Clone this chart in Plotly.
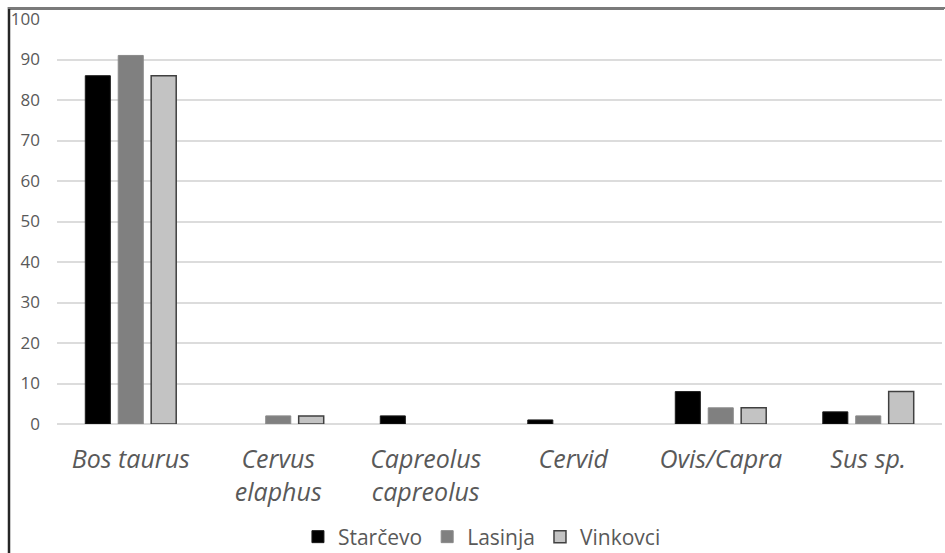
import plotly.graph_objects as go

categories = ["<i>Bos taurus</i>", "<i>Cervus<br>elaphus</i>", "<i>Capreolus<br>capreolus</i>",
              "<i>Cervid</i>", "<i>Ovis/Capra</i>", "<i>Sus sp.</i>"]
starcevo = [86, 0, 2, 1, 8, 3]
lasinja = [91, 2, 0, 0, 4, 2]
vinkovci = [86, 2, 0, 0, 4, 8]
y_ticks = [0, 10, 20, 30, 40, 50, 60, 70, 80, 90, 100]

FONT = "Open Sans"


def widths(vals, w):
    return [w if v else 0 for v in vals]


fig = go.Figure()
fig.add_bar(x=categories, y=starcevo, name="Starčevo",
            marker=dict(color="#000000", line=dict(color="#1a1a1a", width=widths(starcevo, 1))))
fig.add_bar(x=categories, y=lasinja, name="Lasinja",
            marker=dict(color="#808080", line=dict(color="#8a8a8a", width=widths(lasinja, 1))))
fig.add_bar(x=categories, y=vinkovci, name="Vinkovci",
            marker=dict(color="#c3c3c3", line=dict(color="#404040", width=widths(vinkovci, 1.5))))

W, H = 945, 553
L, R, T, B = 57, 3, 19, 129
pw, ph = W - L - R, H - T - B

fig.update_layout(
    width=W, height=H,
    margin=dict(l=L, r=R, t=T, b=B, autoexpand=False),
    paper_bgcolor="white", plot_bgcolor="white",
    barmode="group", bargap=0.33, bargroupgap=0.24,
    font=dict(family=FONT, color="#595959"),
    showlegend=True,
    legend=dict(orientation="h", x=0.51, xref="container", xanchor="center",
                y=1 - 537 / H, yref="container", yanchor="middle",
                font=dict(size=21, color="#595959", family=FONT),
                itemwidth=30, tracegroupgap=0),
    xaxis=dict(showgrid=False, showline=False, ticks="", automargin=False,
               tickfont=dict(size=25, color="#595959", family=FONT),
               ticklabelstandoff=18),
    yaxis=dict(range=[0, 100], tickvals=y_ticks, showgrid=True, automargin=False,
               gridcolor="#dcdcdc", gridwidth=1.5, zeroline=True,
               zerolinecolor="#dcdcdc", zerolinewidth=1.5,
               showline=False, ticks="",
               tickfont=dict(size=17, color="#595959", family=FONT),
               ticklabelstandoff=16),
    shapes=[
        dict(type="line", xref="paper", yref="paper",
             x0=(9 - L) / pw, x1=(W - 1 - L) / pw,
             y0=1 + (T - 8.5) / ph, y1=1 + (T - 8.5) / ph,
             line=dict(color="#7a7a7a", width=3)),
        dict(type="line", xref="paper", yref="paper",
             x0=(9 - L) / pw, x1=(9 - L) / pw,
             y0=1 + (T - 7) / ph, y1=-(B + 5) / ph,
             line=dict(color="#262626", width=2.5)),
    ],
)

post = (
    "document.body.style.margin='0';"
    "document.body.style.overflow='hidden';"
    "var b=document.createElement('div');"
    "b.style.cssText='position:fixed;left:8px;top:7px;width:937px;height:2px;"
    "background:#7a7a7a;z-index:1000;pointer-events:none;';"
    "document.body.appendChild(b);"
)

fig.write_html("out.html", config={"displayModeBar": False}, post_script=post)
